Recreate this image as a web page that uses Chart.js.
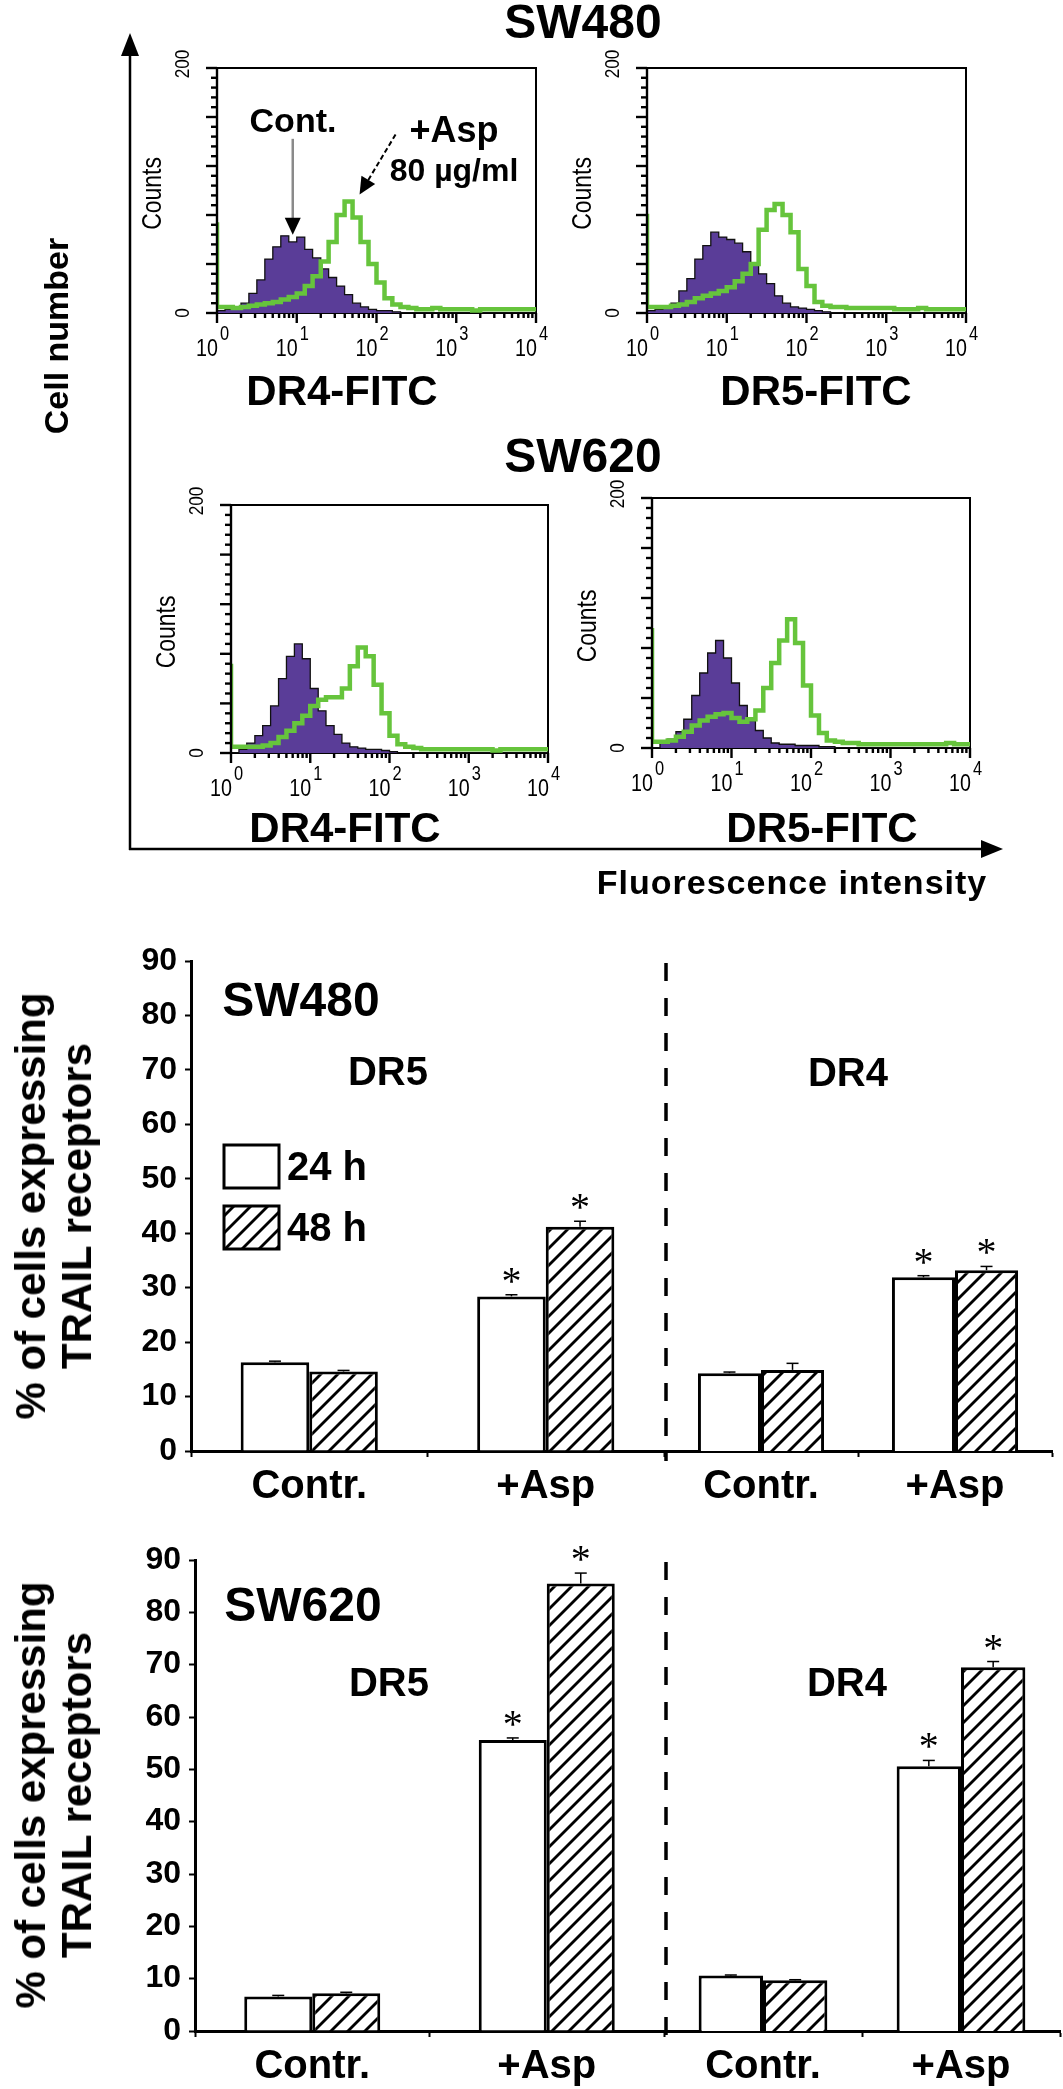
<!DOCTYPE html>
<html>
<head>
<meta charset="utf-8">
<title>TRAIL receptors</title>
<script src="https://cdn.jsdelivr.net/npm/chart.js@4.4.1/dist/chart.umd.min.js"></script>
<style>
  body { margin: 0; background: #fff; }
  #page { position: relative; width: 1063px; height: 2089px; overflow: hidden; background: #fff;
          font-family: "Liberation Sans", Arial, Helvetica, sans-serif; color: #000; }
  #page canvas { position: absolute; }
  .lbl { position: absolute; z-index: 5; font-weight: bold; white-space: nowrap; line-height: 1;
         transform: translate(-50%, -50%); }
  .rot { transform: translate(-50%, -50%) rotate(-90deg); text-align: center; }
  svg { position: absolute; left: 0; top: 0; z-index: 4; }
</style>
</head>
<body>
<div id="page">
  <svg width="1063" height="900">
    <line x1="130" y1="52" x2="130" y2="850" stroke="#000" stroke-width="2.5"/>
    <polygon points="130,33 121,56 139,56" fill="#000"/>
    <line x1="129" y1="849" x2="985" y2="849" stroke="#000" stroke-width="2.5"/>
    <polygon points="1003,849 981,840 981,858" fill="#000"/>
  </svg>

  <!-- flow cytometry part -->
  <div class="lbl" style="left:583px;top:22px;font-size:48px">SW480</div>
  <div class="lbl" style="left:583px;top:456px;font-size:48px">SW620</div>
  <div class="lbl rot" style="left:56px;top:336px;font-size:34px">Cell number</div>
  <div class="lbl" style="left:792px;top:882px;font-size:34px;letter-spacing:1px">Fluorescence intensity</div>
  <div class="lbl" style="left:342px;top:391px;font-size:42px">DR4-FITC</div>
  <div class="lbl" style="left:816px;top:391px;font-size:42px">DR5-FITC</div>
  <div class="lbl" style="left:345px;top:828px;font-size:42px">DR4-FITC</div>
  <div class="lbl" style="left:822px;top:828px;font-size:42px">DR5-FITC</div>
  <div class="lbl" style="left:293px;top:120px;font-size:34px">Cont.</div>
  <div class="lbl" style="left:454px;top:130px;font-size:36px">+Asp</div>
  <div class="lbl" style="left:454px;top:170px;font-size:32px">80 µg/ml</div>

  <!-- bar chart part -->
  <div class="lbl" style="left:301px;top:1000px;font-size:48px">SW480</div>
  <div class="lbl" style="left:388px;top:1071px;font-size:40px">DR5</div>
  <div class="lbl" style="left:848px;top:1072px;font-size:40px">DR4</div>
  <div class="lbl rot" style="left:54px;top:1206px;font-size:42px;line-height:46px">% of cells expressing<br>TRAIL receptors</div>

  <div class="lbl" style="left:303px;top:1605px;font-size:48px">SW620</div>
  <div class="lbl" style="left:389px;top:1682px;font-size:40px">DR5</div>
  <div class="lbl" style="left:847px;top:1682px;font-size:40px">DR4</div>
  <div class="lbl rot" style="left:54px;top:1795px;font-size:42px;line-height:46px">% of cells expressing<br>TRAIL receptors</div>
</div>

<script>
// FITC channel (start of each histogram bin, 10 bins per decade)
const channels = [1, 1.26, 1.58, 2, 2.51, 3.16, 3.98, 5.01, 6.31, 7.94,
                  10, 12.6, 15.8, 20, 25.1, 31.6, 39.8, 50.1, 63.1, 79.4,
                  100, 126, 158, 200, 251, 316, 398, 501, 631, 794,
                  1000, 1259, 1585, 1995, 2512, 3162, 3981, 5012, 6310, 7943, 10000];

// counts per bin
const sw480Dr4Cont = [0, 2, 3, 5, 8, 16, 27, 44, 54, 63, 58, 62, 52, 45, 36, 29, 22, 15, 8, 5,
                      3, 2, 2, 1, 0, 0, 0, 0, 0, 0, 0, 0, 0, 0, 0, 0, 0, 0, 0, 0, 0];
const sw480Dr4Asp  = [74, 5, 5, 4, 5, 6, 7, 8, 9, 11, 13, 16, 22, 30, 42, 58, 80, 91, 78, 58,
                      40, 25, 12, 7, 5, 4, 3, 3, 4, 3, 3, 3, 3, 2, 3, 3, 3, 3, 3, 3, 3];
const sw480Dr5Cont = [0, 2, 3, 5, 8, 18, 28, 44, 55, 66, 62, 60, 57, 50, 40, 32, 24, 14, 8, 5,
                      4, 3, 2, 1, 0, 0, 0, 0, 0, 0, 0, 0, 0, 0, 0, 0, 0, 0, 0, 0, 0];
const sw480Dr5Asp  = [81, 5, 5, 5, 6, 7, 9, 12, 14, 16, 18, 21, 26, 32, 40, 68, 84, 89, 80, 66,
                      36, 22, 9, 6, 5, 5, 4, 4, 4, 4, 4, 4, 3, 3, 3, 4, 3, 3, 3, 3, 3];
const sw620Dr4Cont = [0, 0, 3, 8, 14, 22, 38, 60, 78, 88, 76, 52, 34, 22, 15, 8, 5, 4, 3, 3,
                      2, 1, 0, 0, 0, 0, 0, 0, 0, 0, 0, 0, 0, 0, 0, 0, 0, 0, 0, 0, 0];
const sw620Dr4Asp  = [72, 5, 5, 5, 5, 6, 8, 13, 18, 24, 30, 38, 43, 45, 45, 52, 70, 85, 78, 55,
                      32, 14, 7, 5, 4, 3, 3, 3, 3, 3, 3, 3, 3, 3, 2, 3, 3, 3, 3, 3, 3];
const sw620Dr5Cont = [0, 0, 4, 7, 13, 23, 42, 60, 76, 86, 72, 52, 34, 22, 14, 8, 4, 3, 3, 2,
                      2, 2, 1, 1, 0, 0, 0, 0, 0, 0, 0, 0, 0, 0, 0, 0, 0, 0, 0, 0, 0];
const sw620Dr5Asp  = [96, 5, 5, 6, 9, 13, 18, 22, 25, 27, 28, 24, 21, 23, 30, 48, 68, 86, 103, 84,
                      50, 26, 12, 6, 5, 4, 4, 3, 3, 3, 3, 3, 3, 3, 3, 3, 3, 3, 4, 3, 3];

const decades = [1, 10, 100, 1000, 10000];
const countLabels = [0, 200];

// bar charts: % of cells expressing TRAIL receptors
const groups = ['Contr.', '+Asp'];
const starred = [false, true];
const sw480Dr5h24 = [16.3, 28.4], sw480Dr5h24Err = [0.2, 0.3];
const sw480Dr5h48 = [14.6, 41.2], sw480Dr5h48Err = [0.2, 1.0];
const sw480Dr4h24 = [14.3, 31.9], sw480Dr4h24Err = [0.2, 0.3];
const sw480Dr4h48 = [14.9, 33.2], sw480Dr4h48Err = [1.2, 0.7];
const sw620Dr5h24 = [6.6, 55.6],  sw620Dr5h24Err = [0.2, 0.4];
const sw620Dr5h48 = [7.2, 85.5],  sw620Dr5h48Err = [0.2, 2.0];
const sw620Dr4h24 = [10.6, 50.6], sw620Dr4h24Err = [0.1, 1.1];
const sw620Dr4h48 = [9.7, 69.5],  sw620Dr4h48Err = [0.1, 1.1];

const PURPLE = '#5a3d98';
const GREEN = '#66c43c';
const FONT = '"Liberation Sans", Arial, sans-serif';

Chart.defaults.font.family = FONT;
Chart.defaults.color = '#000';

function addCanvas(left, top, w, h) {
    const c = document.createElement('canvas');
    c.width = w;
    c.height = h;
    c.style.left = left + 'px';
    c.style.top = top + 'px';
    c.style.width = w + 'px';
    c.style.height = h + 'px';
    document.getElementById('page').appendChild(c);
    return c.getContext('2d');
}

function line(ctx, x1, y1, x2, y2) {
    ctx.beginPath();
    ctx.moveTo(x1, y1);
    ctx.lineTo(x2, y2);
    ctx.stroke();
}

// condensed text: squeeze horizontally around the anchor point
function narrowText(ctx, text, x, y, size, align, rot) {
    ctx.save();
    ctx.translate(x, y);
    if (rot) ctx.rotate(rot);
    ctx.scale(0.82, 1);
    ctx.font = size + 'px ' + FONT;
    ctx.textAlign = align;
    ctx.fillText(text, 0, 0);
    ctx.restore();
}

function toPoints(counts) {
    return channels.map((c, i) => ({ x: c, y: counts[i] }));
}

function peakOf(counts) {
    let k = 1;
    counts.forEach((v, i) => { if (i > 0 && v > counts[k]) k = i; });
    return { x: Math.sqrt(channels[k] * channels[k + 1]), y: counts[k] };
}

// box, ticks and tick labels of a histogram
const histFrame = {
    id: 'histFrame',
    beforeDatasetsDraw(chart) {
        const { ctx, chartArea: a } = chart;
        ctx.save();
        ctx.strokeStyle = '#000';
        ctx.lineWidth = 2;
        ctx.strokeRect(a.left, a.top, a.right - a.left, a.bottom - a.top);
        ctx.restore();
    },
    afterDraw(chart) {
        const { ctx, chartArea: a, scales: { x, y } } = chart;
        ctx.save();
        ctx.strokeStyle = '#000';
        ctx.fillStyle = '#000';
        ctx.lineWidth = 2.4;
        line(ctx, a.left, a.top, a.left, a.bottom + 1);
        for (let v = 0; v <= 200; v += 8) {
            const py = y.getPixelForValue(v);
            line(ctx, a.left - (v % 40 === 0 ? 11 : 6), py, a.left, py);
        }
        ctx.textBaseline = 'alphabetic';
        decades.forEach((d, k) => {
            const px = x.getPixelForValue(d);
            line(ctx, px, a.bottom, px, a.bottom + 10);
            if (k < decades.length - 1) {
                for (let m = 2; m <= 9; m++) {
                    const mx = x.getPixelForValue(d * m);
                    line(ctx, mx, a.bottom, mx, a.bottom + 5);
                }
            }
            narrowText(ctx, '10', px + 1, a.bottom + 43, 24, 'right');
            narrowText(ctx, String(k), px + 3, a.bottom + 27, 20, 'left');
        });
        // rotated count labels
        ctx.textBaseline = 'middle';
        countLabels.forEach(v => {
            narrowText(ctx, String(v), a.left - 34, y.getPixelForValue(v) - (v > 0 ? 4 : 0), 21, 'center', -Math.PI / 2);
        });
        narrowText(ctx, 'Counts', a.left - 64, (a.top + a.bottom) / 2 + 3, 28, 'center', -Math.PI / 2);
        ctx.restore();
    }
};

function arrowHead(ctx, tx, ty, fx, fy, len, half) {
    const ang = Math.atan2(ty - fy, tx - fx);
    const bx = tx - len * Math.cos(ang), by = ty - len * Math.sin(ang);
    ctx.beginPath();
    ctx.moveTo(tx, ty);
    ctx.lineTo(bx + half * Math.sin(ang), by - half * Math.cos(ang));
    ctx.lineTo(bx - half * Math.sin(ang), by + half * Math.cos(ang));
    ctx.closePath();
    ctx.fill();
    return { x: bx, y: by };
}

// arrows of the first panel pointing at the two peaks
const peakArrows = {
    id: 'peakArrows',
    afterDraw(chart) {
        const { ctx, scales: { x, y } } = chart;
        const pc = peakOf(sw480Dr4Cont), pa = peakOf(sw480Dr4Asp);
        const cx = x.getPixelForValue(pc.x), cy = y.getPixelForValue(pc.y);
        const ax = x.getPixelForValue(pa.x) + 3, ay = y.getPixelForValue(pa.y) - 7;
        ctx.save();
        ctx.fillStyle = '#000';
        ctx.strokeStyle = '#8a8a8a';
        ctx.lineWidth = 2.5;
        line(ctx, cx, cy - 97, cx, cy - 16);
        arrowHead(ctx, cx, cy - 1, cx, cy - 97, 17, 8);
        ctx.strokeStyle = '#000';
        ctx.lineWidth = 2;
        ctx.setLineDash([5, 3]);
        const base = arrowHead(ctx, ax, ay, ax + 36, ay - 60, 17, 8);
        line(ctx, ax + 36, ay - 60, base.x, base.y);
        ctx.restore();
    }
};

function histPanel(box, cont, asp, extra) {
    const padL = 100, padT = 40, padR = 40, padB = 90;
    const ctx = addCanvas(box.l - padL, box.t - padT, box.r - box.l + padL + padR, box.b - box.t + padT + padB);
    return new Chart(ctx, {
        type: 'line',
        data: {
            datasets: [{
                data: toPoints(asp),
                borderColor: GREEN,
                borderWidth: 4.5,
                stepped: 'after',
                pointRadius: 0,
                fill: false,
                order: 0
            }, {
                data: toPoints(cont),
                borderColor: '#111',
                borderWidth: 1.3,
                backgroundColor: PURPLE,
                stepped: 'after',
                pointRadius: 0,
                fill: 'origin',
                order: 1
            }]
        },
        options: {
            responsive: false,
            animation: false,
            events: [],
            layout: { padding: { left: padL, top: padT, right: padR, bottom: padB } },
            plugins: { legend: { display: false }, tooltip: { enabled: false } },
            scales: {
                x: { type: 'logarithmic', min: 1, max: 10000, display: false },
                y: { type: 'linear', min: 0, max: 200, display: false }
            }
        },
        plugins: [histFrame].concat(extra || [])
    });
}

histPanel({ l: 217, r: 536, t: 68, b: 313 }, sw480Dr4Cont, sw480Dr4Asp, [peakArrows]);
histPanel({ l: 647, r: 966, t: 68, b: 313 }, sw480Dr5Cont, sw480Dr5Asp);
histPanel({ l: 231, r: 548, t: 505, b: 753 }, sw620Dr4Cont, sw620Dr4Asp);
histPanel({ l: 652, r: 970, t: 498, b: 748 }, sw620Dr5Cont, sw620Dr5Asp);

// ---- bar charts ----
function makeHatch() {
    const s = 17;
    const c = document.createElement('canvas');
    c.width = s;
    c.height = s;
    const g = c.getContext('2d');
    g.fillStyle = '#fff';
    g.fillRect(0, 0, s, s);
    g.strokeStyle = '#000';
    g.lineWidth = 2.8;
    [[-s, s, s, -s], [0, s, s, 0], [0, s * 2, s * 2, 0]].forEach(p => line(g, p[0], p[1], p[2], p[3]));
    return g.createPattern(c, 'repeat');
}
const HATCH = makeHatch();

const errorStars = {
    id: 'errorStars',
    afterDatasetsDraw(chart) {
        const { ctx, scales: { y } } = chart;
        ctx.save();
        ctx.strokeStyle = '#000';
        ctx.fillStyle = '#000';
        ctx.lineWidth = 1.5;
        ctx.font = '40px "Liberation Serif", "Times New Roman", serif';
        ctx.textAlign = 'center';
        ctx.textBaseline = 'alphabetic';
        chart.data.datasets.forEach((ds, i) => {
            chart.getDatasetMeta(i).data.forEach((bar, j) => {
                const top = y.getPixelForValue(ds.data[j] + ds.errors[j]);
                line(ctx, bar.x, bar.y, bar.x, top);
                line(ctx, bar.x - 6, top, bar.x + 6, top);
                if (ds.stars[j]) ctx.fillText('*', bar.x, top - 1);
            });
        });
        ctx.restore();
    }
};

const divider = {
    id: 'divider',
    afterDraw(chart) {
        const { ctx, chartArea: a } = chart;
        ctx.save();
        ctx.strokeStyle = '#000';
        ctx.lineWidth = 3.5;
        ctx.setLineDash([18, 17]);
        line(ctx, a.left + 2, a.top + 2, a.left + 2, a.bottom + 10);
        ctx.restore();
    }
};

const timeLegend = {
    id: 'timeLegend',
    afterDraw(chart) {
        const { ctx, chartArea: a } = chart;
        const ds = chart.data.datasets;
        const x0 = a.left + 33;
        ctx.save();
        ctx.font = 'bold 40px ' + FONT;
        ctx.textAlign = 'left';
        ctx.textBaseline = 'middle';
        [[a.top + 184, ds[0]], [a.top + 245, ds[1]]].forEach(([y0, d]) => {
            ctx.fillStyle = d.backgroundColor;
            ctx.fillRect(x0, y0, 55, 43);
            ctx.strokeStyle = '#000';
            ctx.lineWidth = 3;
            ctx.strokeRect(x0, y0, 55, 43);
            ctx.fillStyle = '#000';
            ctx.fillText(d.label, x0 + 63, y0 + 24);
        });
        ctx.restore();
    }
};

function barPanel(o) {
    const ctx = addCanvas(o.left, o.top, o.width, o.height);
    return new Chart(ctx, {
        type: 'bar',
        data: {
            labels: groups,
            datasets: [{
                label: '24 h',
                data: o.v24, errors: o.e24, stars: starred,
                backgroundColor: '#fff', borderColor: '#000', borderWidth: 3,
                categoryPercentage: o.catPct, barPercentage: 1
            }, {
                label: '48 h',
                data: o.v48, errors: o.e48, stars: starred,
                backgroundColor: HATCH, borderColor: '#000', borderWidth: 3,
                categoryPercentage: o.catPct, barPercentage: 1
            }]
        },
        options: {
            responsive: false,
            animation: false,
            events: [],
            layout: { padding: { left: 0, top: o.padTop, right: o.padRight, bottom: 0 } },
            plugins: { legend: { display: false }, tooltip: { enabled: false } },
            scales: {
                y: {
                    display: o.showY,
                    min: 0, max: 90,
                    ticks: { stepSize: 10, padding: 8, color: '#000', font: { size: 32, weight: 'bold' } },
                    grid: { drawOnChartArea: false, tickLength: 6, tickWidth: 2, tickColor: '#000', color: '#000' },
                    border: { color: '#000', width: 3 },
                    afterFit(s) { s.width = o.yWidth; }
                },
                x: {
                    ticks: { padding: 6, color: '#000', font: { size: 40, weight: 'bold' } },
                    grid: { drawOnChartArea: false, tickLength: 6, tickWidth: 2, tickColor: '#000', color: '#000' },
                    border: { color: '#000', width: 3 },
                    afterFit(s) { s.height = o.xHeight; }
                }
            }
        },
        plugins: [errorStars].concat(o.extra || [])
    });
}

// SW480
barPanel({ left: 0, top: 930, width: 664, height: 581, padTop: 31, padRight: 0, yWidth: 191, xHeight: 60,
           showY: true, catPct: 0.58, v24: sw480Dr5h24, e24: sw480Dr5h24Err, v48: sw480Dr5h48, e48: sw480Dr5h48Err,
           extra: [timeLegend] });
barPanel({ left: 664, top: 930, width: 399, height: 581, padTop: 31, padRight: 11, yWidth: 0, xHeight: 60,
           showY: false, catPct: 0.65, v24: sw480Dr4h24, e24: sw480Dr4h24Err, v48: sw480Dr4h48, e48: sw480Dr4h48Err,
           extra: [divider] });
// SW620
barPanel({ left: 0, top: 1529, width: 664, height: 560, padTop: 31, padRight: 0, yWidth: 195, xHeight: 58,
           showY: true, catPct: 0.58, v24: sw620Dr5h24, e24: sw620Dr5h24Err, v48: sw620Dr5h48, e48: sw620Dr5h48Err });
barPanel({ left: 664, top: 1529, width: 399, height: 560, padTop: 31, padRight: 3, yWidth: 0, xHeight: 58,
           showY: false, catPct: 0.65, v24: sw620Dr4h24, e24: sw620Dr4h24Err, v48: sw620Dr4h48, e48: sw620Dr4h48Err,
           extra: [divider] });
</script>
</body>
</html>
